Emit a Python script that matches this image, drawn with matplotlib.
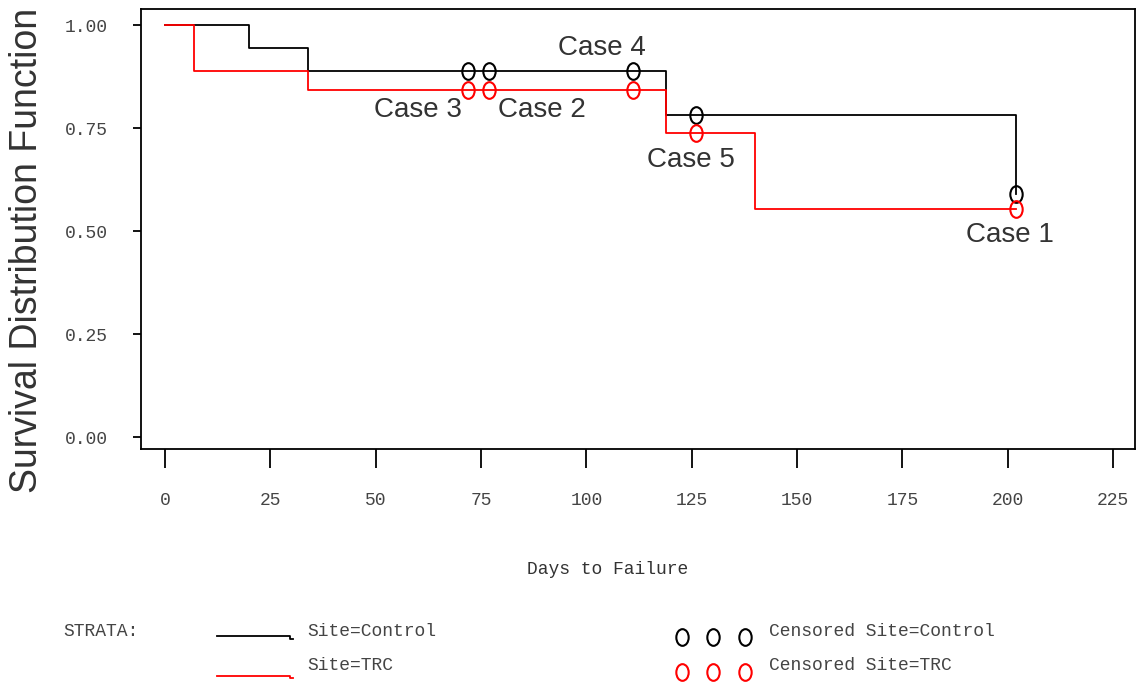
import numpy as np
import matplotlib
matplotlib.use('Agg')
import matplotlib.pyplot as plt
from matplotlib.path import Path
from matplotlib.lines import Line2D

# survival step data
ctrl_t = [0, 20, 34, 119, 202]
ctrl_s = [1.0, 0.944, 0.889, 0.781, 0.590]
trc_t = [0, 7, 34, 119, 140, 202]
trc_s = [1.0, 0.889, 0.842, 0.737, 0.553, 0.553]

# censored observations
ctrl_cens_t = [72, 77, 111, 126, 202]
ctrl_cens_s = [0.889, 0.889, 0.889, 0.781, 0.590]
trc_cens_t = [72, 77, 111, 126, 202]
trc_cens_s = [0.842, 0.842, 0.842, 0.737, 0.553]

case_labels = ['Case 4', 'Case 3', 'Case 2', 'Case 5', 'Case 1']
case_x = [103.8, 60, 89.5, 124.8, 200.5]
case_y = [0.945, 0.795, 0.795, 0.672, 0.49]

xticks = [0, 25, 50, 75, 100, 125, 150, 175, 200, 225]
yticks = [0.0, 0.25, 0.5, 0.75, 1.0]

mono = 'Liberation Mono'
sans = 'Liberation Sans'
txt_gray = '#444444'

# tall oval marker like the SAS censor symbol
circ = Path.unit_circle()
oval = Path(circ.vertices * np.array([1.0, 1.35]), circ.codes)


def main():
    fig = plt.figure(figsize=(11.36, 6.86), dpi=100)
    ax = fig.add_axes([0.1241, 0.3455, 0.875, 0.6414])

    ax.step(ctrl_t, ctrl_s, where='post', color='black', lw=1.3)
    ax.step(trc_t, trc_s, where='post', color='red', lw=1.3)
    ax.plot(ctrl_cens_t, ctrl_cens_s, ls='none', marker=oval, ms=12,
            mfc='none', mec='black', mew=1.5)
    ax.plot(trc_cens_t, trc_cens_s, ls='none', marker=oval, ms=12,
            mfc='none', mec='red', mew=1.5)

    for lab, x, y in zip(case_labels, case_x, case_y):
        ax.text(x, y, lab, ha='center', va='center', fontsize=20,
                family=sans, color='#333333')

    ax.set_xlim(-5.7, 230.2)
    ax.set_ylim(-0.029, 1.039)
    ax.set_xticks(xticks)
    ax.set_yticks(yticks)
    ax.set_xticklabels([str(v) for v in xticks], family=mono, fontsize=13,
                       color=txt_gray)
    ax.set_yticklabels(['%.2f' % v for v in yticks], family=mono, fontsize=13,
                       color=txt_gray)
    ax.tick_params(axis='x', direction='out', length=14, width=1.3, pad=17)
    ax.tick_params(axis='y', direction='out', length=6, width=1.3, pad=18)
    for sp in ax.spines.values():
        sp.set_linewidth(1.3)

    ax.set_xlabel('Days to Failure', family=mono, fontsize=13, color='#333333')
    ax.xaxis.set_label_coords(0.4698, -0.275)
    ax.xaxis.label.set_va('center')
    fig.text(0.0238, 0.6356, 'Survival Distribution Function', rotation=90,
             ha='center', va='center', fontsize=27, family=sans, color='#333333')

    # legend drawn in figure pixel space
    leg = fig.add_axes([0, 0, 1, 1], facecolor='none')
    leg.set_xlim(0, 1136)
    leg.set_ylim(686, 0)
    leg.axis('off')
    kw = dict(family=mono, fontsize=13, color=txt_gray, va='center')
    leg.text(63, 631, 'STRATA:', **kw)
    leg.add_line(Line2D([217, 290, 290, 293], [636, 636, 639, 639],
                        color='black', lw=1.3))
    leg.add_line(Line2D([217, 290, 290, 293], [676, 676, 678, 678],
                        color='red', lw=1.3))
    leg.text(307, 631, 'Site=Control', **kw)
    leg.text(307, 666, 'Site=TRC', **kw)
    for mx in [682, 713, 745]:
        leg.plot([mx], [637], marker=oval, ms=12, mfc='none', mec='black', mew=1.5)
        leg.plot([mx], [672], marker=oval, ms=12, mfc='none', mec='red', mew=1.5)
    leg.text(769, 631, 'Censored Site=Control', **kw)
    leg.text(769, 666, 'Censored Site=TRC', **kw)

    fig.savefig('out.png', dpi=100)


if __name__ == '__main__':
    main()
